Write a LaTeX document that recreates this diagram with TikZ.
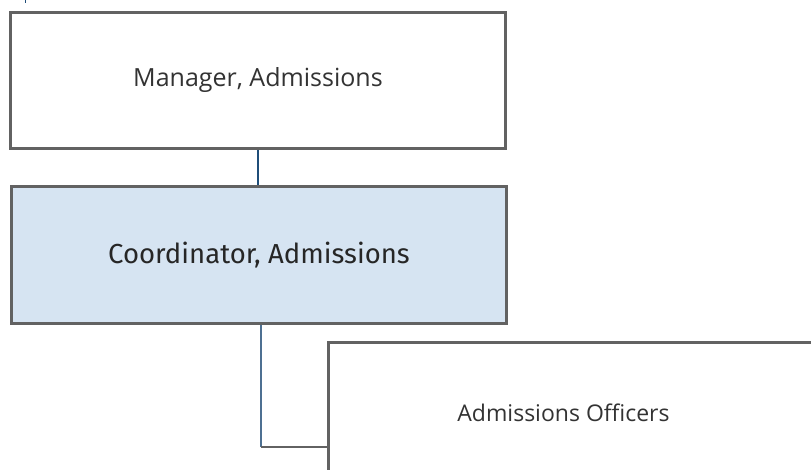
\documentclass[tikz,border=0pt]{standalone}
\usepackage{fontspec}
\setmainfont{Open Sans}
\newfontfamily\coordfont{Fira Sans}

\definecolor{boxline}{HTML}{626262}
\definecolor{coordfill}{HTML}{D6E4F2}
\definecolor{linkblue}{HTML}{1F4E79}
\definecolor{linksteel}{HTML}{4E7092}

\tikzset{
  rolebox/.style={draw=boxline, line width=3pt, fill=white, inner sep=0pt,
    minimum width=495pt, minimum height=137pt,
    font=\fontsize{23}{27}\selectfont, text=black!80},
  rolelabel/.style={font=\fontsize{23}{27}\selectfont, text=black!80}
}

\begin{document}
\begin{tikzpicture}[x=1pt,y=-1pt]
  \useasboundingbox (0,0) rectangle (811,470);
  \clip (0,0) rectangle (811,470);

  % boxes
  \node[rolebox, minimum height=136pt, font=\fontsize{25}{29}\selectfont]
    (manager) at (258,80.5) {Manager, Admissions};
  \node[rolebox, fill=coordfill, font=\coordfont\fontsize{27.5}{31}\selectfont, text=black!85]
    (coord) at (259,255.25) {Coordinator, Admissions};
  \node[rolebox, anchor=north west,
    label={[rolelabel, xshift=-12pt, yshift=-2pt]center:Admissions Officers}]
    (officers) at (326.5,340.5) {};

  % links
  \coordinate (stub) at (25.5,0);
  \coordinate (elbow) at (261,447);
  \draw[linkblue, line width=1.3pt] (stub) -- ++(0,3.5);
  \draw[linkblue, line width=1.3pt] (manager.south) -- (manager.south |- coord.north);
  \draw[linksteel, line width=1.8pt] (coord.south -| elbow) -- (elbow);
  \draw[boxline, line width=1.2pt] (elbow) -- (elbow -| officers.west);
\end{tikzpicture}
\end{document}
